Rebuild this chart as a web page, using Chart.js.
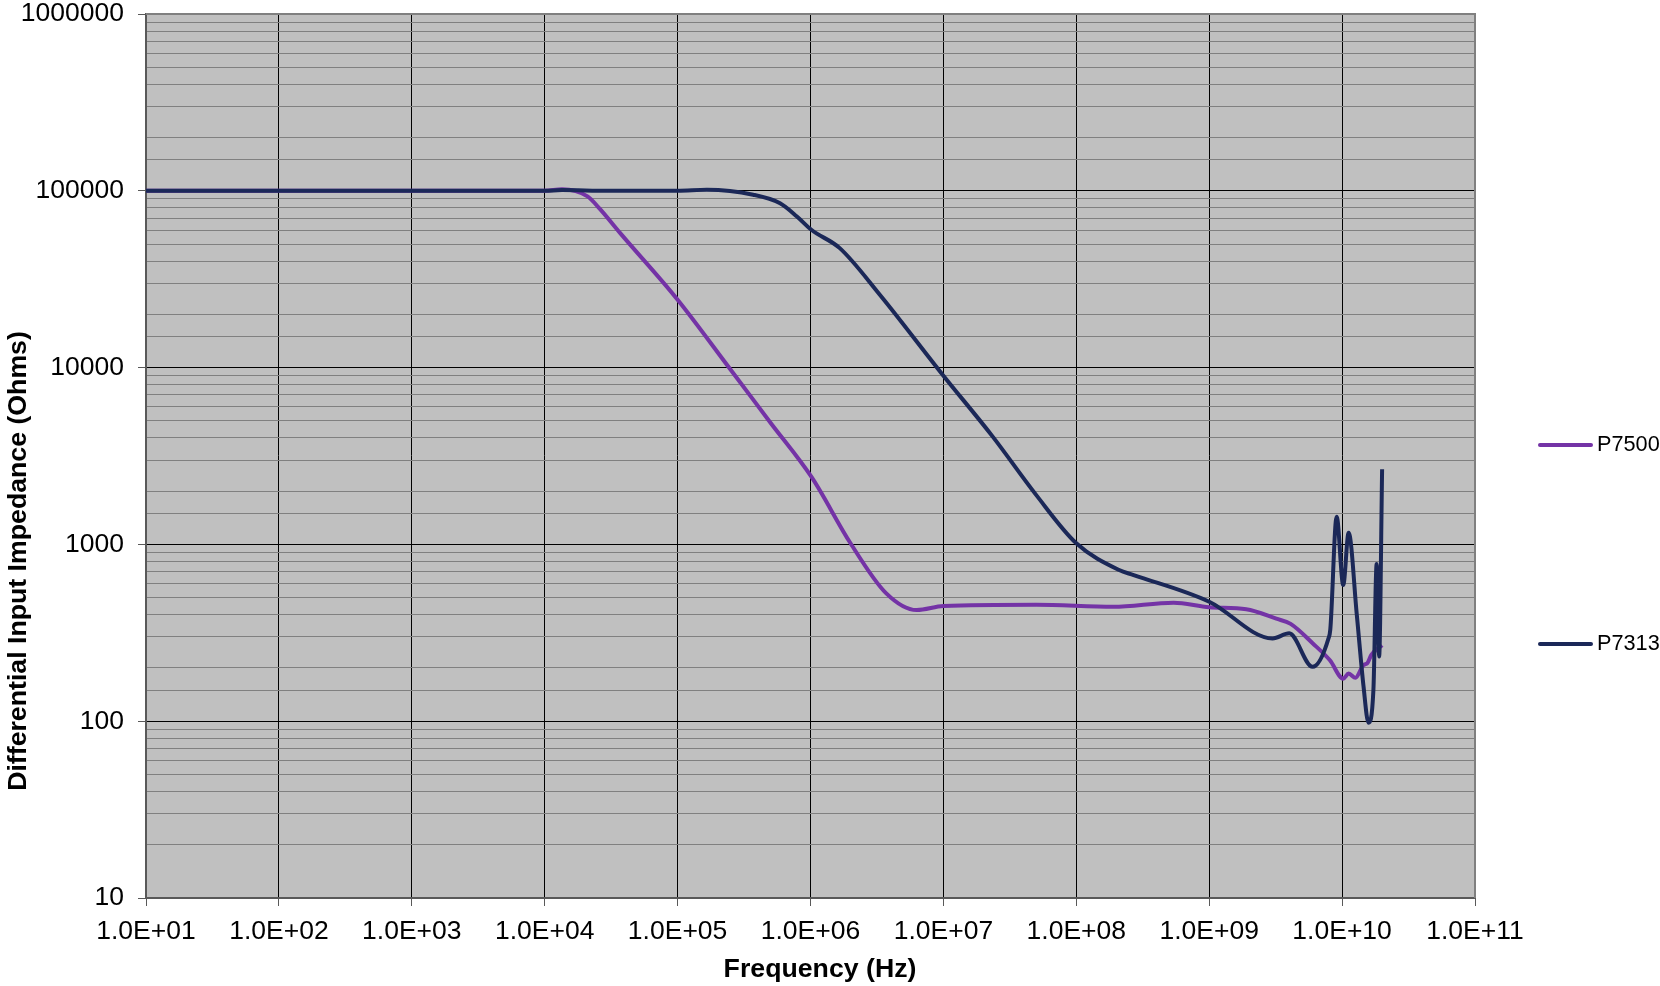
<!DOCTYPE html>
<html>
<head>
<meta charset="utf-8">
<title>Differential Input Impedance</title>
<script src="https://cdn.jsdelivr.net/npm/chart.js@4.4.0/dist/chart.umd.min.js"></script>
<style>
  html, body { margin: 0; padding: 0; background: #fff; }
  #wrap { width: 1660px; height: 986px; }
</style>
</head>
<body>
<div id="wrap"><canvas id="impChart" width="1660" height="986"></canvas></div>
<script>
// values (Hz, Ohms)
const freqP7500 = [1e1, 1e2, 1e3, 1e4, 1.35e4, 2.1e4, 2.6e4, 3.7e4, 1e5, 2.5e5, 5e5, 1.02e6, 2e6, 3.7e6,
  6.3e6, 1e7, 5e7, 1.9e8, 5.4e8, 1e9, 1.9e9, 3.2e9, 4.1e9, 6e9, 8.1e9, 1.02e10, 1.12e10, 1.26e10,
  1.45e10, 1.55e10, 1.66e10, 2e10];
const impP7500 = [1e5, 1e5, 1e5, 1e5, 102000, 93000, 79000, 57600, 24200, 9750, 4880, 2400, 1015, 530,
  425, 448, 456, 444, 468, 441, 430, 380, 355, 276, 221, 174, 186, 176,
  208, 213, 237, 269];

const freqP7313 = [1e1, 1e2, 1e3, 1e4, 1.35e4, 3e4, 1e5, 1.66e5, 3.7e5, 5.9e5, 7.9e5, 1.02e6, 1.66e6, 3.3e6,
  1e7, 2.35e7, 5e7, 1e8, 2.1e8, 2.7e8, 1e9, 3e9, 4e9, 6e9, 7.9e9, 8.15e9, 9.1e9, 1.02e10,
  1.12e10, 1.29e10, 1.45e10, 1.58e10, 1.72e10, 1.82e10, 1.9e10, 2e10];
const impP7313 = [1e5, 1e5, 1e5, 1e5, 101000, 1e5, 1e5, 101300, 95000, 85000, 71600, 60000, 47400, 26000,
  9000, 4070, 1900, 1015, 716, 671, 474, 294, 314, 203, 294, 330, 1435, 589,
  1165, 400, 157, 98, 150, 774, 232, 2660];

const freqTicks = [1e1, 1e2, 1e3, 1e4, 1e5, 1e6, 1e7, 1e8, 1e9, 1e10, 1e11];
const freqTickLabels = ['1.0E+01', '1.0E+02', '1.0E+03', '1.0E+04', '1.0E+05', '1.0E+06',
  '1.0E+07', '1.0E+08', '1.0E+09', '1.0E+10', '1.0E+11'];
const impTicks = [10, 100, 1000, 10000, 100000, 1000000];
const impTickLabels = ['10', '100', '1000', '10000', '100000', '1000000'];

const FONT = "'Liberation Sans', Arial, sans-serif";
Chart.defaults.font.family = FONT;
Chart.defaults.color = '#000';

const toPoints = (xs, ys) => xs.map((x, i) => ({ x: x, y: ys[i] }));
const isDecade = v => Math.abs(Math.log10(v) - Math.round(Math.log10(v))) < 1e-6;
const labelFor = (ticks, labels, v) => {
  const i = ticks.findIndex(t => Math.abs(t - v) / t < 1e-6);
  return i >= 0 ? labels[i] : '';
};

// plot background, frame, legend and axis titles
const chartDecor = {
  id: 'chartDecor',
  beforeDraw(chart) {
    const { ctx, chartArea: a } = chart;
    ctx.save();
    ctx.fillStyle = '#c0c0c0';
    ctx.fillRect(a.left, a.top, a.right - a.left, a.bottom - a.top);
    ctx.restore();
  },
  afterDraw(chart) {
    const { ctx, chartArea: a } = chart;
    ctx.save();
    ctx.strokeStyle = '#808080';
    ctx.lineWidth = 2;
    ctx.beginPath();
    ctx.moveTo(a.left, a.top);
    ctx.lineTo(a.right, a.top);
    ctx.lineTo(a.right, a.bottom);
    ctx.stroke();

    // legend
    const legendY = [445, 644];
    chart.data.datasets.forEach((ds, i) => {
      ctx.strokeStyle = ds.borderColor;
      ctx.lineWidth = 4;
      ctx.lineCap = 'round';
      ctx.beginPath();
      ctx.moveTo(1540, legendY[i]);
      ctx.lineTo(1591, legendY[i]);
      ctx.stroke();
      ctx.fillStyle = '#000';
      ctx.font = '21.7px ' + FONT;
      ctx.textAlign = 'left';
      ctx.textBaseline = 'middle';
      ctx.fillText(ds.label, 1597, legendY[i]);
    });

    // axis titles
    ctx.fillStyle = '#000';
    ctx.font = 'bold 26.7px ' + FONT;
    ctx.textAlign = 'center';
    ctx.textBaseline = 'middle';
    ctx.fillText('Frequency (Hz)', 820, 970);
    ctx.translate(19, 561);
    ctx.rotate(-Math.PI / 2);
    ctx.fillText('Differential Input Impedance (Ohms)', 0, 0);
    ctx.restore();
  }
};

const ctx = document.getElementById('impChart').getContext('2d');
new Chart(ctx, {
  type: 'line',
  data: {
    datasets: [
      {
        label: 'P7500',
        data: toPoints(freqP7500, impP7500),
        borderColor: '#7433a6',
        borderWidth: 4,
        pointRadius: 0,
        cubicInterpolationMode: 'monotone',
        fill: false,
        order: 1
      },
      {
        label: 'P7313',
        data: toPoints(freqP7313, impP7313),
        borderColor: '#1b2858',
        borderWidth: 4,
        pointRadius: 0,
        cubicInterpolationMode: 'monotone',
        fill: false,
        order: 0
      }
    ]
  },
  options: {
    responsive: false,
    animation: false,
    devicePixelRatio: 1,
    layout: { padding: { top: 14, right: 185, left: 0, bottom: 0 } },
    plugins: {
      legend: { display: false },
      tooltip: { enabled: false }
    },
    scales: {
      x: {
        type: 'logarithmic',
        min: 10,
        max: 1e11,
        afterBuildTicks: s => { s.ticks = freqTicks.map(v => ({ value: v })); },
        afterFit: s => { s.height = 88; },
        border: { color: '#595959', width: 2 },
        grid: {
          color: c => (c.tick && c.tick.value >= 1e11) ? '#808080' : '#000',
          lineWidth: 1,
          tickLength: 8,
          tickColor: '#595959'
        },
        ticks: {
          autoSkip: false,
          maxRotation: 0,
          padding: 10,
          color: '#000',
          font: { size: 26.5 },
          callback: v => labelFor(freqTicks, freqTickLabels, v)
        }
      },
      y: {
        type: 'logarithmic',
        min: 10,
        max: 1e6,
        afterFit: s => { s.width = 146; s.paddingTop = 0; s.paddingBottom = 0; },
        border: { color: '#595959', width: 2 },
        grid: {
          color: c => {
            if (!c.tick) return '#808080';
            if (c.tick.value >= 1e6) return '#808080';
            return isDecade(c.tick.value) ? '#000' : '#808080';
          },
          lineWidth: 1,
          tickLength: 8,
          tickColor: c => (c.tick && isDecade(c.tick.value)) ? '#595959' : 'rgba(0,0,0,0)'
        },
        ticks: {
          autoSkip: false,
          padding: 14,
          color: '#000',
          font: { size: 26.5 },
          callback: v => labelFor(impTicks, impTickLabels, v)
        }
      }
    }
  },
  plugins: [chartDecor]
});
</script>
</body>
</html>
